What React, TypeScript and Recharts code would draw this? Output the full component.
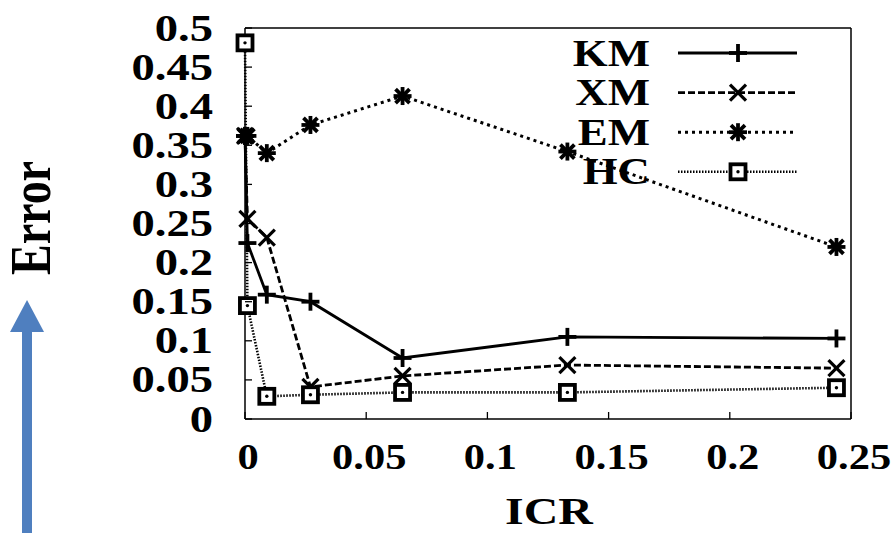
import React from "react";
import { LineChart, Line, XAxis, YAxis, Legend, Customized } from "recharts";

// ICR values on the x axis, error for each method
const icr = [0, 0.001, 0.009, 0.027, 0.065, 0.133, 0.244];
const kmErr = [0.362, 0.225, 0.159, 0.15, 0.078, 0.105, 0.103];
const xmErr = [0.362, 0.256, 0.232, 0.041, 0.055, 0.069, 0.065];
const emErr = [0.362, 0.362, 0.34, 0.376, 0.413, 0.342, 0.22];
const hcErr = [0.481, 0.145, 0.029, 0.031, 0.034, 0.034, 0.04];

const seriesNames = ["KM", "XM", "EM", "HC"];
const xTicks = [0, 0.05, 0.1, 0.15, 0.2, 0.25];
const yTicks = [0, 0.05, 0.1, 0.15, 0.2, 0.25, 0.3, 0.35, 0.4, 0.45, 0.5];

const toPoints = (ys: number[]) => icr.map((x, i) => ({ x, v: ys[i] }));

const FONT = "Liberation Serif, Times New Roman, Times, serif";

type Kind = "plus" | "cross" | "star" | "box";

const STYLE: Record<string, { kind: Kind; dash?: string; width: number }> = {
  KM: { kind: "plus", width: 2.8 },
  XM: { kind: "cross", dash: "7 3", width: 2.8 },
  EM: { kind: "star", dash: "3 4", width: 3 },
  HC: { kind: "box", dash: "1.5 1.5", width: 2.6 }
};

function Marker({ kind, cx, cy }: { kind: Kind; cx: number; cy: number }) {
  if (cx == null || cy == null) return null;
  if (kind === "plus") {
    return (
      <g stroke="#000" strokeWidth={3.8}>
        <line x1={cx - 9} x2={cx + 9} y1={cy} y2={cy} />
        <line x1={cx} x2={cx} y1={cy - 9} y2={cy + 9} />
      </g>
    );
  }
  if (kind === "cross") {
    return (
      <g stroke="#000" strokeWidth={3.2}>
        <line x1={cx - 8} x2={cx + 8} y1={cy - 8} y2={cy + 8} />
        <line x1={cx - 8} x2={cx + 8} y1={cy + 8} y2={cy - 8} />
      </g>
    );
  }
  if (kind === "star") {
    return (
      <g stroke="#000" strokeWidth={3.8}>
        <line x1={cx - 9} x2={cx + 9} y1={cy} y2={cy} />
        <line x1={cx} x2={cx} y1={cy - 9} y2={cy + 9} />
        <line x1={cx - 7} x2={cx + 7} y1={cy - 7} y2={cy + 7} />
        <line x1={cx - 7} x2={cx + 7} y1={cy + 7} y2={cy - 7} />
      </g>
    );
  }
  return (
    <g>
      <rect x={cx - 7.5} y={cy - 7.5} width={15} height={15} fill="#fff" stroke="#000" strokeWidth={3.8} />
      <circle cx={cx} cy={cy} r={1.7} fill="#000" />
    </g>
  );
}

function StretchText({
  x, y, anchor, size, sx, children
}: { x: number; y: number; anchor: "start" | "middle" | "end"; size: number; sx: number; children: React.ReactNode }) {
  return (
    <g transform={`translate(${x},${y}) scale(${sx},1)`}>
      <text x={0} y={0} textAnchor={anchor} fontFamily={FONT} fontWeight="bold" fontSize={size} fill="#000">
        {children}
      </text>
    </g>
  );
}

const LeftTick = (p: any) => (
  <g>
    <line x1={p.x} x2={p.x + 7} y1={p.y} y2={p.y} stroke="#000" strokeWidth={1.3} />
    <StretchText x={p.x - 32} y={p.y + 12.5} anchor="end" size={37} sx={1.26}>
      {String(p.payload.value)}
    </StretchText>
  </g>
);

const RightTick = (p: any) => (
  <line x1={p.x} x2={p.x - 7} y1={p.y} y2={p.y} stroke="#000" strokeWidth={1.3} />
);

const BottomTick = (p: any) => (
  <g>
    <line x1={p.x} x2={p.x} y1={p.y} y2={p.y - 7} stroke="#000" strokeWidth={1.3} />
    <StretchText x={p.x + 3} y={p.y + 50} anchor="middle" size={36} sx={1.18}>
      {String(p.payload.value)}
    </StretchText>
  </g>
);

const TopTick = (p: any) => (
  <line x1={p.x} x2={p.x} y1={p.y} y2={p.y + 7} stroke="#000" strokeWidth={1.3} />
);

const renderLegend = (props: any) => {
  const payload = props.payload ?? [];
  const items = seriesNames.filter((n) => payload.some((e: any) => e.value === n));
  return (
    <svg width={280} height={195} style={{ overflow: "visible" }}>
      {items.map((name, i) => {
        const s = STYLE[name];
        const y = 33 + i * 39.6;
        return (
          <g key={name}>
            <StretchText x={110} y={y + 12.5} anchor="end" size={38} sx={1.18}>
              {name}
            </StretchText>
            <line x1={138} x2={257} y1={y} y2={y} stroke="#000" strokeWidth={s.width} strokeDasharray={s.dash} />
            <Marker kind={s.kind} cx={198} cy={y} />
          </g>
        );
      })}
    </svg>
  );
};

function Titles() {
  return (
    <g>
      <StretchText x={549} y={524} anchor="middle" size={38} sx={1.26}>
        ICR
      </StretchText>
      <g transform="translate(50,218) scale(1.25,1) rotate(-90)">
        <text x={0} y={0} textAnchor="middle" fontFamily={FONT} fontWeight="bold" fontSize={46} fill="#000">
          Error
        </text>
      </g>
      <rect x={22} y={331} width={10} height={202} fill="#4F7FBF" />
      <polygon points="27,300 10,332 44,332" fill="#4F7FBF" />
    </g>
  );
}

const seriesData: Record<string, { x: number; v: number }[]> = {
  KM: toPoints(kmErr),
  XM: toPoints(xmErr),
  EM: toPoints(emErr),
  HC: toPoints(hcErr)
};

export default function App() {
  const axisLine = { stroke: "#000", strokeWidth: 1.5 };
  return (
    <div style={{ position: "absolute", left: 0, top: 0, width: 896, height: 533, background: "#fff" }}>
      <LineChart width={896} height={533} margin={{ top: 0, right: 0, left: 0, bottom: 0 }}>
        <XAxis
          type="number"
          dataKey="x"
          domain={[0, 0.25]}
          ticks={xTicks}
          height={114}
          axisLine={axisLine}
          tickLine={false}
          tickSize={0}
          tickMargin={0}
          tick={BottomTick}
          interval={0}
        />
        <XAxis
          xAxisId="top"
          orientation="top"
          type="number"
          dataKey="x"
          domain={[0, 0.25]}
          ticks={xTicks}
          height={28}
          axisLine={axisLine}
          tickLine={false}
          tickSize={0}
          tickMargin={0}
          tick={TopTick}
          interval={0}
        />
        <YAxis
          type="number"
          domain={[0, 0.5]}
          ticks={yTicks}
          width={245}
          axisLine={axisLine}
          tickLine={false}
          tickSize={0}
          tickMargin={0}
          tick={LeftTick}
          interval={0}
        />
        <YAxis
          yAxisId="right"
          orientation="right"
          type="number"
          domain={[0, 0.5]}
          ticks={yTicks}
          width={45}
          axisLine={axisLine}
          tickLine={false}
          tickSize={0}
          tickMargin={0}
          tick={RightTick}
          interval={0}
        />
        {seriesNames.map((name) => {
          const s = STYLE[name];
          return (
            <Line
              key={name}
              name={name}
              data={seriesData[name]}
              dataKey="v"
              type="linear"
              stroke="#000"
              strokeWidth={s.width}
              strokeDasharray={s.dash}
              isAnimationActive={false}
              dot={(p: any) => <Marker key={`${name}-${p.index}`} kind={s.kind} cx={p.cx} cy={p.cy} />}
              activeDot={false}
            />
          );
        })}
        <Legend
          layout="vertical"
          align="center"
          verticalAlign="middle"
          content={renderLegend}
          wrapperStyle={{ left: 540, top: 20, width: 280, height: 195 }}
        />
        <Customized component={<Titles />} />
      </LineChart>
    </div>
  );
}
